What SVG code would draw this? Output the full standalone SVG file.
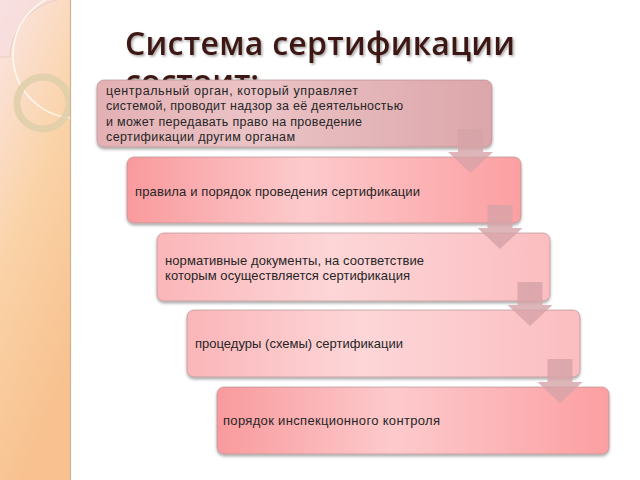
<svg xmlns="http://www.w3.org/2000/svg" width="640" height="480" viewBox="0 0 640 480">
<defs>
<linearGradient id="strip" x1="0" y1="0" x2="0.35" y2="1">
<stop offset="0" stop-color="#fbe6e6"/>
<stop offset="0.5" stop-color="#fad3a8"/>
<stop offset="1" stop-color="#f8c18f"/>
</linearGradient>
<linearGradient id="g1" x1="0" y1="0" x2="1" y2="0">
<stop offset="0" stop-color="#e3b0b4"/>
<stop offset="0.4" stop-color="#ebc3c6"/>
<stop offset="1" stop-color="#dca6aa"/>
</linearGradient>
<linearGradient id="g2" x1="0" y1="0" x2="1" y2="0">
<stop offset="0" stop-color="#f99a9d"/>
<stop offset="0.45" stop-color="#fdcacc"/>
<stop offset="1" stop-color="#fc9fa2"/>
</linearGradient>
<linearGradient id="g3" x1="0" y1="0" x2="1" y2="0">
<stop offset="0" stop-color="#fbb6b9"/>
<stop offset="0.45" stop-color="#fdd6d8"/>
<stop offset="1" stop-color="#fbbdc0"/>
</linearGradient>
<filter id="sh" x="-5%" y="-10%" width="110%" height="130%">
<feDropShadow dx="0" dy="2" stdDeviation="1.5" flood-color="#000" flood-opacity="0.35"/>
</filter>
<filter id="tsh" x="-5%" y="-20%" width="110%" height="150%">
<feDropShadow dx="1.5" dy="1.5" stdDeviation="0.8" flood-color="#000" flood-opacity="0.35"/>
</filter>
<clipPath id="stripClip"><rect x="0" y="0" width="70" height="480"/></clipPath>
<path id="arrow" d="M-12.5,0 H12.5 V23 H22.5 L0,44 L-22.5,23 H-12.5 Z"/>
</defs>
<style>
.box{stroke:#b08a8c;stroke-width:0.6;filter:url(#sh);}
.t{font-family:"Liberation Sans","DejaVu Sans",sans-serif;font-size:13px;fill:#262626;}
.t1{font-size:12.5px;}
.title{font-family:"Open Sans","Liberation Sans",sans-serif;font-size:32px;font-weight:600;fill:#3d1812;filter:url(#tsh);}
.arr{fill:#d6a3a7;fill-opacity:0.8;}
</style>
<rect width="640" height="480" fill="#ffffff"/>
<g id="decor">
<rect x="0" y="0" width="70" height="480" fill="url(#strip)"/>
<g clip-path="url(#stripClip)">
<path d="M0,57 H10 A60,60 0 0 1 57,0 H0 Z" fill="#f7dcdf" fill-opacity="0.6"/>
<path d="M10,57 A60,60 0 0 1 57,0" fill="none" stroke="#e8cfc4" stroke-width="1"/>
<line x1="0" y1="57" x2="10" y2="57" stroke="#e8cfc4" stroke-width="1"/>
<circle cx="76" cy="55" r="63" fill="none" stroke="#fff8ee" stroke-width="1.6"/>
<circle cx="43" cy="103" r="26" fill="none" stroke="#e0cfab" stroke-width="7" stroke-opacity="0.9"/>
</g>
<line x1="70.5" y1="0" x2="70.5" y2="480" stroke="#cdb393" stroke-width="1.2"/>
</g>
<g id="title">
<text class="title" x="125" y="55" textLength="390" lengthAdjust="spacing">Система сертификации</text>
<text class="title" x="125" y="93">состоит:</text>
</g>
<g id="node1">
<rect class="box" x="97" y="80" width="395" height="67" rx="7" fill="url(#g1)"/>
<text class="t t1" x="106" y="95" textLength="252" lengthAdjust="spacing">центральный орган, который управляет</text>
<text class="t t1" x="106" y="110" textLength="297" lengthAdjust="spacing">системой, проводит надзор за её деятельностью</text>
<text class="t t1" x="106" y="126" textLength="256" lengthAdjust="spacing">и может передавать право на проведение</text>
<text class="t t1" x="106" y="141" textLength="189" lengthAdjust="spacing">сертификации другим органам</text>
</g>
<g id="node2">
<rect class="box" x="127" y="157" width="394" height="66" rx="7" fill="url(#g2)"/>
<text class="t" x="135" y="196" textLength="285" lengthAdjust="spacing">правила и порядок проведения сертификации</text>
</g>
<g id="node3">
<rect class="box" x="157" y="233" width="393" height="68" rx="7" fill="url(#g3)"/>
<text class="t" x="165" y="265" textLength="259" lengthAdjust="spacing">нормативные документы, на соответствие</text>
<text class="t" x="165" y="280" textLength="245" lengthAdjust="spacing">которым осуществляется сертификация</text>
</g>
<g id="node4">
<rect class="box" x="187" y="310" width="393" height="67" rx="7" fill="url(#g3)"/>
<text class="t" x="195" y="348" textLength="208" lengthAdjust="spacing">процедуры (схемы) сертификации</text>
</g>
<g id="node5">
<rect class="box" x="217" y="387" width="392" height="67" rx="7" fill="url(#g2)"/>
<text class="t" x="223" y="425" textLength="217" lengthAdjust="spacing">порядок инспекционного контроля</text>
</g>
<g id="connectors">
<use href="#arrow" class="arr" x="470.5" y="129"/>
<use href="#arrow" class="arr" x="500" y="205"/>
<use href="#arrow" class="arr" x="530" y="282"/>
<use href="#arrow" class="arr" x="560" y="359"/>
</g>
</svg>
